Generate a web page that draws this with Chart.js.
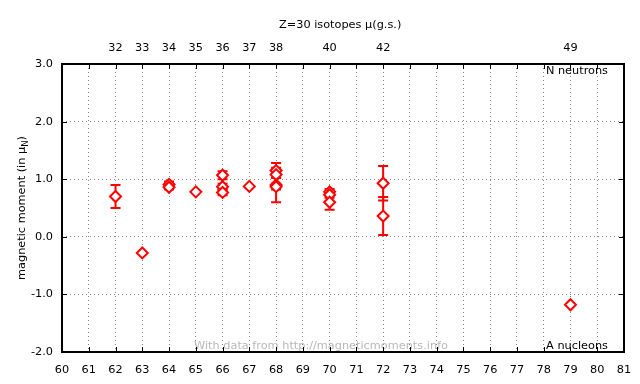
<!DOCTYPE html>
<html>
<head>
<meta charset="utf-8">
<script src="https://cdn.jsdelivr.net/npm/chart.js@4"></script>
<style>
  html, body { margin: 0; padding: 0; background: #fff; }
  #wrap { width: 640px; height: 384px; }
</style>
</head>
<body>
<div id="wrap"><canvas id="muChart" width="640" height="384"></canvas></div>
<script>
// mass number A, measured moment and its uncertainty
const massNumbers = [62, 63, 64, 64, 65, 66, 66, 66, 67, 68, 68, 68, 68, 70, 70, 70, 72, 72, 79];
const moments    = [0.70, -0.28, 0.91, 0.86, 0.78, 1.07, 0.87, 0.77, 0.875, 1.15, 1.08, 0.90, 0.87, 0.78, 0.73, 0.60, 0.93, 0.36, -1.18];
const errors     = [0.20, 0.02, 0.05, 0.04, 0.02, 0.07, 0.05, 0.05, 0.01, 0.13, 0.05, 0.30, 0.05, 0.05, 0.05, 0.13, 0.30, 0.33, 0.02];
// neutron numbers shown on the top axis
const neutronLabels = [32, 33, 34, 35, 36, 37, 38, 40, 42, 49];
const Z = 30;
const yTicks = [-2, -1, 0, 1, 2, 3];

const FONT = 'DejaVu Sans';
const FS = 11.3;
const RED = '#ff0000';

const points = massNumbers.map((a, i) => ({ x: a, y: moments[i], e: errors[i] }));

// error bars, frame, inside ticks and text in the plot
const extras = {
  id: 'extras',
  beforeDatasetsDraw(chart) {
    const ctx = chart.ctx;
    const xs = chart.scales.x, ys = chart.scales.y;
    ctx.save();
    ctx.strokeStyle = RED;
    ctx.lineWidth = 2;
    points.forEach(p => {
      if (p.e < 0.03) return;
      const px = xs.getPixelForValue(p.x);
      const y1 = ys.getPixelForValue(p.y + p.e);
      const y2 = ys.getPixelForValue(p.y - p.e);
      ctx.beginPath();
      ctx.moveTo(px, y1); ctx.lineTo(px, y2);
      ctx.moveTo(px - 5, y1); ctx.lineTo(px + 5, y1);
      ctx.moveTo(px - 5, y2); ctx.lineTo(px + 5, y2);
      ctx.stroke();
    });
    ctx.restore();
  },
  afterDraw(chart) {
    const ctx = chart.ctx;
    const a = chart.chartArea;
    const xs = chart.scales.x, ys = chart.scales.y;
    ctx.save();
    // title
    ctx.font = FS + 'px ' + FONT;
    ctx.fillStyle = '#000';
    ctx.textAlign = 'left';
    ctx.textBaseline = 'middle';
    ctx.fillText('Z=' + Z + ' isotopes \u03bc(g.s.)', 279, 25);
    // watermark
    ctx.textAlign = 'center';
    ctx.textBaseline = 'alphabetic';
    ctx.fillStyle = '#b8b8b8';
    ctx.fillText('With data from http://magneticmoments.info', 321, a.bottom - 3);
    // corner labels
    ctx.fillStyle = '#000';
    ctx.textAlign = 'right';
    ctx.fillText('A nucleons', a.right - 16, a.bottom - 3);
    ctx.textBaseline = 'top';
    ctx.fillText('N neutrons', a.right - 16, a.top + 1);
    // frame
    ctx.strokeStyle = '#000';
    ctx.lineWidth = 2;
    ctx.strokeRect(a.left, a.top, a.right - a.left, a.bottom - a.top);
    // inward ticks
    ctx.lineWidth = 1;
    ctx.beginPath();
    for (let v = 60; v <= 81; v++) {
      const px = Math.round(xs.getPixelForValue(v)) + 0.5;
      ctx.moveTo(px, a.bottom); ctx.lineTo(px, a.bottom - 5);
      ctx.moveTo(px, a.top); ctx.lineTo(px, a.top + 5);
    }
    yTicks.forEach(v => {
      const py = Math.round(ys.getPixelForValue(v)) + 0.5;
      ctx.moveTo(a.left, py); ctx.lineTo(a.left + 5, py);
      ctx.moveTo(a.right, py); ctx.lineTo(a.right - 5, py);
    });
    ctx.stroke();
    // y title with subscript
    ctx.translate(21, (a.top + a.bottom) / 2);
    ctx.rotate(-Math.PI / 2);
    ctx.fillStyle = '#000';
    ctx.textBaseline = 'alphabetic';
    ctx.textAlign = 'left';
    const s1 = 'magnetic moment (in \u03bc';
    ctx.font = FS + 'px ' + FONT;
    const w1 = ctx.measureText(s1).width;
    ctx.font = '8.5px ' + FONT;
    const w2 = ctx.measureText('N').width;
    ctx.font = FS + 'px ' + FONT;
    const w3 = ctx.measureText(')').width;
    let x0 = -(w1 + w2 + w3) / 2;
    ctx.fillText(s1, x0, 4);
    ctx.font = '8.5px ' + FONT;
    ctx.fillText('N', x0 + w1, 7);
    ctx.font = FS + 'px ' + FONT;
    ctx.fillText(')', x0 + w1 + w2, 4);
    ctx.restore();
  }
};

new Chart(document.getElementById('muChart').getContext('2d'), {
  type: 'scatter',
  data: {
    datasets: [{
      label: 'moments',
      data: points,
      pointStyle: 'rectRot',
      pointRadius: 5.5,
      pointHoverRadius: 5.5,
      borderWidth: 2,
      borderColor: RED,
      backgroundColor: '#ffffff'
    }]
  },
  options: {
    responsive: false,
    animation: false,
    layout: { padding: { left: 0, right: 16, top: 0, bottom: 0 } },
    plugins: {
      legend: { display: false },
      tooltip: { enabled: false },
      title: { display: false }
    },
    scales: {
      x: {
        type: 'linear',
        position: 'bottom',
        min: 60, max: 81,
        afterFit(s) { s.height = 32; s.paddingLeft = 0; s.paddingRight = 0; },
        ticks: {
          stepSize: 1,
          autoSkip: false,
          maxRotation: 0,
          color: '#000',
          padding: 11,
          font: { family: FONT, size: FS }
        },
        grid: { color: '#888888', drawTicks: false },
        border: { display: false, dash: [1, 3] }
      },
      x2: {
        type: 'linear',
        position: 'top',
        min: 60, max: 81,
        afterBuildTicks(s) { s.ticks = neutronLabels.map(n => ({ value: n + Z })); },
        afterFit(s) { s.height = 64; s.paddingLeft = 0; s.paddingRight = 0; },
        ticks: {
          autoSkip: false,
          maxRotation: 0,
          color: '#000',
          padding: 9,
          font: { family: FONT, size: FS },
          callback: v => String(v - Z)
        },
        grid: { display: false, drawTicks: false },
        border: { display: false }
      },
      y: {
        type: 'linear',
        min: -2, max: 3,
        afterBuildTicks(s) { s.ticks = yTicks.map(v => ({ value: v })); },
        afterFit(s) { s.width = 62; s.paddingTop = 0; s.paddingBottom = 0; },
        ticks: {
          color: '#000',
          padding: 9,
          font: { family: FONT, size: FS },
          callback: v => v.toFixed(1)
        },
        grid: { color: '#888888', drawTicks: false },
        border: { display: false, dash: [1, 3] }
      }
    }
  },
  plugins: [extras]
});
</script>
</body>
</html>
